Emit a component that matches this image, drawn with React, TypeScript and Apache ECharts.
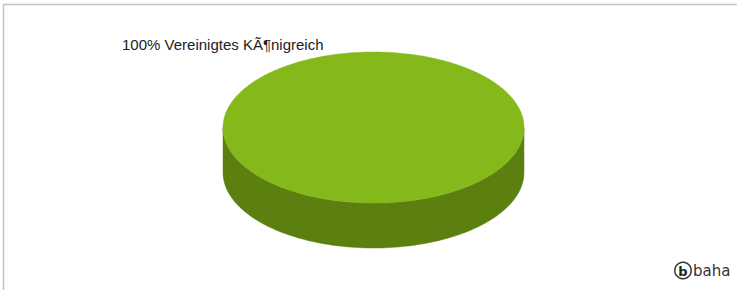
import React, { useEffect, useRef } from "react";
import * as echarts from "echarts";

const categories: string[] = ["Vereinigtes KÃ¶nigreich"];
const values: number[] = [100];
const topColors: string[] = ["#85b81b"];
const sideColors: string[] = ["#5b800f"];

const CX = 373.5;
const CY = 127.5;
const RX = 150.5;
const RY = 75.5;
const DEPTH = 45;
const START = -300; // degrees, so the single slice's middle points upper-left

function arc(a0: number, a1: number, dy: number, n: number): number[][] {
  const pts: number[][] = [];
  for (let k = 0; k <= n; k++) {
    const t = a0 + ((a1 - a0) * k) / n;
    pts.push([CX + RX * Math.cos(t), CY + dy + RY * Math.sin(t)]);
  }
  return pts;
}

export default function App() {
  const ref = useRef<HTMLDivElement>(null);
  useEffect(() => {
    document.body.style.margin = "0";
    const chart = echarts.init(ref.current!, null, { renderer: "svg" });
    const total = values.reduce((a, b) => a + b, 0);
    const starts: number[] = [];
    let acc = 0;
    values.forEach((v) => {
      starts.push(acc);
      acc += v;
    });
    chart.setOption({
      animation: false,
      backgroundColor: "#ffffff",
      graphic: [
        {
          type: "polyline",
          shape: { points: [[3.5, 290], [3.5, 4.5], [737, 4.5]] },
          style: { stroke: "#c2c2c2", lineWidth: 1.5, fill: null },
          silent: true,
        },
        {
          type: "circle",
          shape: { cx: 683, cy: 270.5, r: 8.2 },
          style: { stroke: "#333333", lineWidth: 1.5, fill: "#ffffff" },
          silent: true,
        },
        {
          type: "text",
          x: 683,
          y: 271,
          style: {
            text: "b",
            fill: "#222222",
            font: "bold 13px 'DejaVu Sans'",
            align: "center",
            verticalAlign: "middle",
          },
          silent: true,
        },
        {
          type: "text",
          x: 693,
          y: 271,
          style: {
            text: "baha",
            fill: "#333333",
            font: "15px 'DejaVu Sans'",
            align: "left",
            verticalAlign: "middle",
          },
          silent: true,
        },
      ],
      series: [
        {
          type: "custom",
          coordinateSystem: "none",
          silent: true,
          data: values.map((v, i) => ({ name: categories[i], value: [v] })),
          renderItem: (params: any) => {
            const i = params.dataIndex;
            const frac = values[i] / total;
            const a0 = ((START + (starts[i] / total) * 360) * Math.PI) / 180;
            const a1 = a0 + frac * 2 * Math.PI;
            const full = frac >= 0.9999;
            const children: any[] = [];
            // side wall: visible front half (sin > 0)
            const segs: number[][] = [];
            if (full) {
              segs.push([0, Math.PI]);
            } else {
              for (let off = -4 * Math.PI; off <= 4 * Math.PI; off += 2 * Math.PI) {
                const s = Math.max(a0, off);
                const e = Math.min(a1, off + Math.PI);
                if (e > s) segs.push([s, e]);
              }
            }
            segs.forEach(([s, e]) => {
              const top = arc(s, e, 0, 120);
              const bot = arc(e, s, DEPTH, 120);
              children.push({
                type: "polygon",
                shape: { points: top.concat(bot) },
                style: { fill: sideColors[i], stroke: sideColors[i], lineWidth: 0.5 },
              });
            });
            const topPts = arc(a0, a1, 0, 360);
            children.push({
              type: "polygon",
              shape: { points: full ? topPts : [[CX, CY]].concat(topPts) },
              style: { fill: topColors[i], stroke: topColors[i], lineWidth: 0.5 },
            });
            const pct = Math.round(frac * 100);
            children.push({
              type: "text",
              x: 122,
              y: 44.5,
              style: {
                text: pct + "% " + categories[i],
                fill: "#222222",
                font: "15px 'Liberation Sans', Arial, sans-serif",
                align: "left",
                verticalAlign: "middle",
              },
            });
            return { type: "group", children };
          },
        },
      ],
    });
    return () => chart.dispose();
  }, []);
  return (
    <div
      ref={ref}
      style={{ position: "absolute", left: 0, top: 0, width: 737, height: 290 }}
    />
  );
}
